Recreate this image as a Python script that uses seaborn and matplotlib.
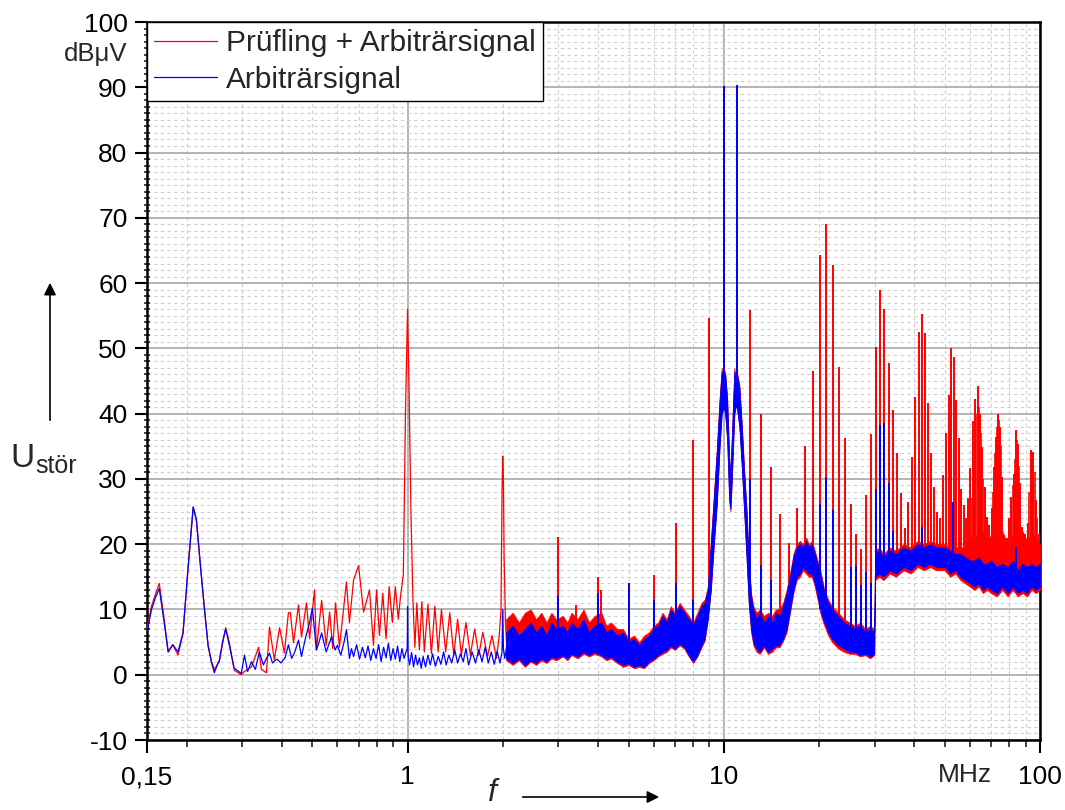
import matplotlib
matplotlib.use("Agg")
import matplotlib.pyplot as plt
import matplotlib.patches as mpatches
import matplotlib.transforms as mtransforms
from matplotlib.ticker import FixedLocator, FixedFormatter, MultipleLocator, NullFormatter
import pandas as pd
import seaborn as sns

# --- low frequency part (0.15 .. 2 MHz) ---
red_low_f = [0.150, 0.155, 0.160, 0.164, 0.170, 0.175, 0.181, 0.188, 0.195, 0.202,
             0.210, 0.215, 0.222, 0.228, 0.234, 0.240, 0.245, 0.250, 0.254, 0.260,
             0.266, 0.273, 0.283, 0.298, 0.305, 0.321, 0.338, 0.345, 0.358, 0.366,
             0.379, 0.394, 0.408, 0.420, 0.426, 0.436, 0.452, 0.462, 0.479, 0.490,
             0.508, 0.515, 0.535, 0.553, 0.567, 0.580, 0.592, 0.609, 0.641, 0.655,
             0.675, 0.700, 0.726, 0.758, 0.780, 0.798, 0.815, 0.835, 0.855, 0.875,
             0.895, 0.915, 0.935, 0.950, 0.970, 0.985, 1.000, 1.010, 1.025, 1.040,
             1.055, 1.070, 1.090, 1.110, 1.130, 1.160, 1.190, 1.220, 1.250, 1.280,
             1.320, 1.360, 1.400, 1.440, 1.480, 1.530, 1.580, 1.630, 1.680, 1.730,
             1.790, 1.850, 1.910, 1.950, 1.975, 1.990, 2.000, 2.010, 2.020, 2.040, 2.060]
red_low_db = [7.0, 10.5, 12.5, 14.0, 8.5, 3.5, 4.6, 3.0, 6.4, 16.0,
              25.7, 23.5, 16.0, 10.0, 4.5, 2.0, 0.8, 1.5, 2.0, 4.8,
              7.2, 5.0, 0.7, 0.0, 0.5, 1.2, 4.2, 0.8, 0.3, 7.3,
              2.3, 7.2, 3.3, 9.5, 9.5, 4.9, 10.7, 5.8, 11.0, 5.5,
              13.0, 3.8, 11.4, 4.5, 9.6, 4.0, 11.0, 4.2, 14.2, 8.0,
              14.5, 16.7, 9.6, 13.0, 4.5, 13.0, 6.0, 12.5, 5.5, 13.5,
              8.0, 13.5, 8.5, 12.0, 15.4, 40.0, 56.0, 45.0, 25.0, 11.4,
              4.2, 11.0, 3.8, 11.2, 3.5, 10.8, 3.2, 10.5, 3.5, 10.0,
              3.5, 9.5, 3.0, 8.5, 3.0, 8.0, 3.0, 7.0, 3.0, 6.5,
              2.8, 6.0, 2.5, 6.0, 10.0, 28.0, 33.5, 30.0, 18.0, 8.0, 4.0]

blue_low_f = [0.150, 0.155, 0.160, 0.164, 0.170, 0.175, 0.181, 0.188, 0.195, 0.202,
              0.210, 0.215, 0.222, 0.228, 0.234, 0.240, 0.245, 0.250, 0.254, 0.260,
              0.266, 0.273, 0.283, 0.298, 0.305, 0.312, 0.321, 0.330, 0.340, 0.350,
              0.358, 0.366, 0.374, 0.386, 0.398, 0.410, 0.420, 0.430, 0.440, 0.452,
              0.462, 0.475, 0.490, 0.500, 0.515, 0.525, 0.535, 0.553, 0.575, 0.590,
              0.600, 0.615, 0.630, 0.641, 0.655, 0.665, 0.675, 0.690, 0.705, 0.720,
              0.735, 0.750, 0.765, 0.780, 0.795, 0.810, 0.825, 0.840, 0.855, 0.870,
              0.885, 0.900, 0.915, 0.930, 0.945, 0.960, 0.975, 0.990, 0.998, 1.000,
              1.004, 1.015, 1.030, 1.045, 1.060, 1.075, 1.090, 1.105, 1.120, 1.140,
              1.160, 1.180, 1.200, 1.225, 1.250, 1.275, 1.300, 1.325, 1.350, 1.380,
              1.410, 1.440, 1.470, 1.500, 1.530, 1.560, 1.600, 1.640, 1.680, 1.720,
              1.760, 1.800, 1.840, 1.880, 1.920, 1.960, 1.990, 2.000, 2.010, 2.030, 2.060]
blue_low_db = [6.5, 10.0, 12.0, 13.2, 8.0, 3.5, 4.6, 3.5, 6.4, 16.0,
               25.7, 23.8, 16.0, 10.0, 4.5, 1.8, 0.3, 1.5, 2.2, 5.0,
               7.0, 4.6, 1.0, 0.2, 3.0, 0.5, 2.0, 0.8, 3.5, 1.5,
               2.5, 3.3, 1.8, 2.4, 1.8, 2.6, 4.6, 2.5, 3.5, 5.3,
               2.8, 5.5, 8.0, 10.2, 3.8, 5.0, 6.4, 3.5, 5.8, 3.8,
               4.5, 3.0, 5.0, 6.9, 2.5, 4.0, 2.8, 4.6, 2.4, 4.2,
               2.6, 4.4, 2.2, 4.0, 2.5, 4.6, 2.0, 4.2, 2.6, 4.8,
               2.2, 4.0, 2.4, 4.4, 2.0, 4.0, 2.5, 3.6, 4.0, 10.4,
               3.0, 1.5, 3.4, 1.2, 3.0, 1.5, 2.6, 1.0, 2.8, 1.2,
               3.0, 1.5, 3.2, 1.3, 2.8, 1.6, 3.5, 1.5, 3.0, 1.8,
               3.8, 1.8, 3.2, 2.0, 4.0, 1.5, 3.5, 1.8, 3.8, 2.0,
               4.2, 1.8, 3.5, 1.6, 3.6, 1.8, 3.5, 10.0, 4.0, 2.5, 4.5]

# --- dense noise floor above 2 MHz: lower / upper envelope ---
band_f = [2.05, 2.15, 2.25, 2.35, 2.45, 2.55, 2.65, 2.75, 2.85, 2.95,
          3.1, 3.2, 3.3, 3.45, 3.6, 3.75, 3.9, 4.1, 4.25, 4.4,
          4.6, 4.8, 5.0, 5.2, 5.4, 5.6, 5.8, 6.0, 6.2, 6.4,
          6.6, 6.8, 7.0, 7.25, 7.5, 7.75, 8.0, 8.25, 8.5, 8.7,
          8.9, 9.1, 9.3, 9.5, 9.7, 9.85, 10.0, 10.1, 10.25, 10.4,
          10.5, 10.6, 10.8, 10.9, 11.0, 11.2, 11.4, 11.6, 11.8, 12.0,
          12.2, 12.4, 12.7, 13.0, 13.4, 13.8, 14.2, 14.6, 15.0, 15.4,
          15.8, 16.2, 16.6, 17.0, 17.4, 17.8, 18.2, 18.6, 19.0, 19.4,
          19.8, 20.3, 20.8, 21.4, 22, 23, 24, 25, 26, 27,
          28, 29, 29.9, 30.1, 31, 32, 33.5, 35, 37, 39,
          41, 43, 45, 47, 50, 52, 54, 56, 58, 60,
          62, 64, 66, 68, 70, 73, 76, 79, 82, 85,
          88, 91, 94, 97, 100]
blue_lo = [2.5, 1.8, 2.5, 1.5, 2.2, 1.8, 2.5, 2.0, 2.8, 2.5,
           3.0, 2.5, 3.2, 2.8, 3.5, 3.0, 3.5, 3.0, 2.5, 2.8,
           2.0, 1.5, 1.8, 1.2, 1.5, 1.2, 2.0, 2.5, 3.0, 3.5,
           3.8, 4.5, 4.0, 4.8, 4.2, 3.0, 2.0, 3.0, 4.5, 5.5,
           8.5, 13, 20, 26, 35, 40, 41, 40, 36, 27,
           25.5, 30, 40, 41, 41, 38, 32, 25, 18, 11,
           7, 5, 4, 3.5, 4.5, 3.5, 4.0, 4.5, 4.5, 5.5,
           7, 10, 13, 15, 15.5, 16.5, 16, 15.5, 15.5, 14,
           12, 9.5, 8, 6.5, 5.5, 4.5, 4.0, 3.5, 3.5, 3.0,
           3.2, 2.8, 3.2, 15, 15.5, 15, 16, 15.5, 16.5, 16,
           17, 16.5, 17, 16.5, 16.5, 15.5, 16, 15, 14.5, 14,
           13.5, 14, 13, 13.5, 13, 12.5, 13.5, 12.5, 13.5, 12.5,
           13, 12.5, 13.5, 13, 13.5]
blue_hi = [6.5, 7.5, 6.0, 7.0, 8.0, 6.5, 7.5, 6.0, 8.0, 7.0,
           7.5, 6.5, 8.0, 7.0, 8.5, 6.5, 7.5, 8.0, 6.5, 7.0,
           6.0, 6.5, 5.0, 5.5, 4.5, 5.5, 6.0, 7.0, 7.5, 9.0,
           8.0, 10.0, 9.0, 10.5, 9.5, 8.5, 7.5, 9.0, 10.5, 11.0,
           13, 20, 27, 34, 42, 46.5, 45, 46, 42, 33,
           30.5, 36, 46.5, 45, 46, 44, 38, 31, 25, 17,
           12, 10, 8.5, 9.5, 8.0, 9.0, 8.0, 9.5, 9.0, 10.5,
           12.5, 15, 18, 19.5, 20, 19.5, 20.5, 19.5, 20, 18.5,
           17, 15, 12.5, 11, 10, 9, 8, 7.5, 7.0, 7.5,
           6.5, 7.0, 6.5, 18.5, 19, 18, 19, 18.5, 19.5, 19,
           20, 19.5, 20, 19.5, 19.5, 19, 18.5, 18.5, 18, 17.5,
           17.5, 18, 17, 17, 17.5, 16.5, 17, 16.5, 17.5, 16,
           17, 16.5, 17, 16.5, 17]
red_lo = [2.2, 1.5, 2.2, 1.2, 2.0, 1.5, 2.2, 1.8, 2.5, 2.2,
          2.8, 2.2, 3.0, 2.5, 3.2, 2.8, 3.2, 2.8, 2.2, 2.5,
          1.8, 1.2, 1.5, 1.0, 1.2, 1.0, 1.8, 2.2, 2.8, 3.2,
          3.5, 4.2, 3.8, 4.5, 4.0, 2.8, 1.8, 2.8, 4.2, 5.2,
          8.5, 13, 20, 26, 35, 40, 41, 40, 36, 26.5,
          25, 29.5, 40, 41, 41, 38, 32, 25, 18, 10.5,
          6.5, 4.5, 3.5, 3.2, 4.2, 3.2, 3.5, 4.2, 4.2, 5.2,
          6.5, 9.5, 12.5, 14.5, 15, 16, 15.5, 15, 15, 13.5,
          11.5, 9, 7.5, 6, 5, 4, 3.5, 3.2, 3.2, 2.8,
          3.0, 2.5, 3.0, 14.5, 15, 14.5, 15.5, 15, 16, 15.5,
          16.5, 16, 16.5, 16, 16, 15, 15.5, 14.5, 14, 13.5,
          13, 13.5, 12.5, 13, 12.5, 12, 13, 12, 13, 12,
          12.5, 12, 13, 12.5, 13]
red_hi = [8.5, 9.5, 8.0, 9.5, 10.0, 8.5, 9.5, 8.0, 9.5, 8.5,
          9.0, 8.0, 9.5, 8.5, 10.0, 8.0, 9.0, 9.5, 7.5, 8.0,
          7.0, 7.0, 5.5, 6.0, 5.0, 6.0, 6.5, 7.5, 8.0, 9.5,
          8.5, 10.5, 9.5, 11.0, 10.0, 9.0, 8.0, 9.5, 11.0, 11.5,
          13.5, 20.5, 27.5, 34.5, 42.5, 47, 45.5, 46.5, 42.5, 33.5,
          31, 36.5, 47, 45.5, 46.5, 44.5, 38.5, 31.5, 25.5, 17.5,
          12.5, 10.5, 9.5, 10.0, 9.0, 9.5, 9.0, 10.0, 10.0, 11,
          13, 15.5, 18.5, 20, 20.5, 20, 21, 20, 20.5, 19,
          17.5, 15.5, 13, 11.5, 10.5, 9.5, 8.5, 8, 7.5, 8,
          7, 7.5, 7, 19, 19.5, 18.5, 19.5, 19, 20, 19.5,
          20.5, 20, 20.5, 20, 20, 19.5, 19.5, 19.5, 19.5, 21,
          21.5, 20.5, 22, 20, 21.5, 20.5, 22, 20, 21.5, 20.5,
          22, 20.5, 21.5, 21, 20]

# --- narrow discrete lines (frequency, peak, floor below it) ---
red_spike_f = [3.0, 3.4, 4.0, 4.1, 5.0, 6.0, 7.05, 8.0, 9.0, 10.0,
               11.0, 12.1, 13.1, 14.1, 15.1, 16.1, 17.1, 18.1, 19.1, 20.2,
               21.1, 22.1, 23.1, 24.2, 25.2, 26.2, 27.2, 28.2, 29.2, 30.2,
               31.2, 32.2, 33.3, 34.3, 35.3, 36.3, 37.3, 38.2, 39.3, 40.2,
               41.3, 42.3, 43.3, 44.2, 45.3, 46.2, 47.2, 48.3, 49.3, 50.4,
               51.4, 52.4, 53.4, 54.3, 55.4, 56.4, 57.4, 58.4, 59.3, 60.2,
               61.4, 62.4, 63.5, 64.6, 65.7, 66.8, 68.0, 69.2, 70.5, 71.7,
               72.8, 73.8, 74.9, 76.0, 77.1, 78.7, 80.0, 81.2, 82.6, 83.8,
               85.0, 86.3, 87.7, 89.8, 91.6, 93.5, 95.3, 97.1, 99.1]
red_spike_db = [21.1, 10.7, 15.0, 13.0, 13.0, 15.3, 23.2, 36.0, 54.7, 90.0,
                90.0, 55.9, 39.9, 31.8, 24.6, 20.2, 25.6, 35.1, 46.6, 64.3,
                69.1, 62.7, 47.2, 36.2, 26.2, 21.5, 19.3, 27.5, 36.9, 50.2,
                58.9, 56.0, 47.8, 40.6, 34.0, 27.8, 22.5, 26.5, 33.3, 42.5,
                52.5, 55.2, 52.4, 41.6, 34.0, 28.8, 25.0, 24.0, 30.6, 37.0,
                42.8, 50.1, 48.7, 42.1, 36.3, 28.5, 26.0, 24.0, 27.0, 31.6,
                38.9, 42.3, 44.2, 40.0, 34.9, 28.8, 24.2, 23.0, 25.5, 31.8,
                36.4, 39.9, 38.0, 30.3, 21.4, 20.9, 24.0, 27.3, 30.8, 37.5,
                35.4, 29.3, 22.7, 21.6, 23.2, 34.5, 34.1, 26.7, 21.6]
red_spike_base = [4, 4, 4, 4, 3, 4, 5, 5, 12, 44,
                  44, 10, 5, 5, 5, 10, 16, 17, 16, 10,
                  8, 6, 5, 4, 4, 4, 4, 4, 4, 16,
                  16, 16, 16, 16, 16, 16, 16, 16, 16, 16,
                  17, 17, 17, 17, 17, 17, 17, 17, 16, 16,
                  16, 16, 16, 16, 16, 16, 15, 15, 15, 15,
                  15, 15, 15, 14, 14, 14, 14, 14, 14, 14,
                  14, 14, 14, 14, 14, 14, 14, 14, 14, 14,
                  14, 14, 14, 14, 14, 14, 14, 14, 14]

# extra lines inside the dense clusters above 60 MHz
red_comb_f = [60.8, 61.9, 62.9, 64.0, 65.1, 66.2, 71.2, 72.3, 73.3, 74.4,
              75.5, 82.0, 83.2, 84.4, 85.6, 92.5, 94.4, 96.2, 98.0]
red_comb_db = [27, 35, 40, 41, 37, 30, 28, 34, 38, 39,
               35, 29, 33, 36, 32, 28, 33, 31, 24]

blue_spike_f = [3.0, 4.0, 5.0, 6.0, 7.05, 8.0, 10.0, 11.0, 12.1, 13.1,
                14.1, 20.2, 21.1, 22.1, 25.2, 26.2, 27.2, 28.2, 29.2, 30.2,
                31.2, 32.2, 33.3, 34.3, 42.3, 52.9, 83.8]
blue_spike_db = [12.0, 12.5, 14.0, 11.5, 14.0, 11.5, 90.2, 90.4, 30.0, 16.8,
                 14.5, 26.2, 30.3, 25.2, 16.5, 16.6, 13.8, 15.8, 14.0, 28.5,
                 38.2, 38.6, 29.3, 22.0, 22.7, 26.5, 19.6]
blue_spike_base = [4, 4, 3, 4, 5, 5, 44, 44, 10, 5,
                   5, 10, 8, 7, 4, 4, 4, 4, 4, 16,
                   16, 16, 16, 16, 17, 16, 14]

x_ticks = [0.15, 1, 10, 100]
x_tick_labels = ["0,15", "1", "10", "100"]
x_minor = [0.2, 0.3, 0.4, 0.5, 0.6, 0.7, 0.8, 0.9,
           2, 3, 4, 5, 6, 7, 8, 9, 20, 30, 40, 50, 60, 70, 80, 90]

label_red = "Prüfling + Arbiträrsignal"
label_blue = "Arbiträrsignal"
RED = "#ff0000"
BLUE = "#0000ff"

sns.set_theme(style="white")
plt.rcParams["font.family"] = ["Liberation Sans", "DejaVu Sans"]
plt.rcParams["axes.unicode_minus"] = False

fig = plt.figure(figsize=(10.65, 8.10), dpi=100)
ax = fig.add_axes([147 / 1065, 70 / 810, 893 / 1065, 718 / 810])

df_red = pd.DataFrame({"f": red_low_f, "dB": red_low_db})
df_blue = pd.DataFrame({"f": blue_low_f, "dB": blue_low_db})

# red first, blue drawn on top
sns.lineplot(data=df_red, x="f", y="dB", color=RED, lw=0.9, estimator=None,
             sort=False, label=label_red, ax=ax, zorder=3)
ax.fill_between(band_f, red_lo, red_hi, color=RED, lw=0.5, zorder=3)
ax.vlines(red_spike_f, red_spike_base, red_spike_db, color=RED, lw=1.4, zorder=3)
ax.vlines(red_comb_f, 15, red_comb_db, color=RED, lw=1.2, zorder=3)

sns.lineplot(data=df_blue, x="f", y="dB", color=BLUE, lw=0.9, estimator=None,
             sort=False, label=label_blue, ax=ax, zorder=4)
ax.fill_between(band_f, blue_lo, blue_hi, color=BLUE, lw=0.6, zorder=4)
ax.vlines(blue_spike_f, blue_spike_base, blue_spike_db, color=BLUE, lw=1.4, zorder=4)

ax.set_xscale("log")
ax.set_xlim(0.15, 100)
ax.set_ylim(-10, 100)
ax.xaxis.set_major_locator(FixedLocator(x_ticks))
ax.xaxis.set_major_formatter(FixedFormatter(x_tick_labels))
ax.xaxis.set_minor_locator(FixedLocator(x_minor))
ax.xaxis.set_minor_formatter(NullFormatter())
ax.yaxis.set_major_locator(MultipleLocator(10))
ax.yaxis.set_minor_locator(MultipleLocator(1))

ax.grid(which="major", color="#a0a0a0", lw=1.1, zorder=0)
ax.grid(which="minor", color="#cfcfcf", lw=0.8, ls=(0, (3, 3)), zorder=0)
ax.set_axisbelow(True)

for sp in ax.spines.values():
    sp.set_visible(True)
    sp.set_color("black")
    sp.set_linewidth(1.8)

ax.tick_params(axis="both", which="major", labelsize=19, colors="black")
ax.tick_params(axis="y", which="major", direction="out", length=9, width=1.5, pad=5, left=True)
ax.tick_params(axis="y", which="minor", direction="inout", length=5, width=1.2, left=True)
ax.tick_params(axis="x", which="major", direction="out", length=9, width=1.5, pad=9, bottom=True)
ax.tick_params(axis="x", which="minor", direction="out", length=5, width=1.2, bottom=True)

ax.set_xlabel("")
ax.set_ylabel("")

h, l = ax.get_legend_handles_labels()
leg = ax.legend(h, l, loc="upper left", bbox_to_anchor=(0, 1), borderaxespad=0,
                fontsize=21.5, frameon=True, fancybox=False, framealpha=1,
                edgecolor="black", handlelength=2.1, handletextpad=0.3,
                borderpad=0.25, labelspacing=0.28)
leg.get_frame().set_linewidth(1.0)
leg.set_zorder(10)

# unit labels
trans = mtransforms.blended_transform_factory(ax.transAxes, ax.transData)
ax.text(-0.022, 95.1, "dBμV", transform=trans, ha="right", va="center", fontsize=18.5)
ax.text(0.916, -0.049, "MHz", transform=ax.transAxes, ha="center", va="center", fontsize=19)

# axis quantity labels with arrows
fig.text(10 / 1065, 1 - 467 / 810, "U", fontsize=24, va="baseline", ha="left")
fig.text(35 / 1065, 1 - 473 / 810, "stör", fontsize=18, va="baseline", ha="left")
fig.patches.append(mpatches.FancyArrowPatch(
    (50 / 1065, 1 - 423 / 810), (50 / 1065, 1 - 280 / 810), transform=fig.transFigure,
    arrowstyle="-|>", mutation_scale=18, lw=1.2, color="black"))

fig.text(492 / 1065, 1 - 801 / 810, "f", fontsize=23, style="italic", va="baseline", ha="center")
fig.patches.append(mpatches.FancyArrowPatch(
    (520 / 1065, 1 - 797 / 810), (662 / 1065, 1 - 797 / 810), transform=fig.transFigure,
    arrowstyle="-|>", mutation_scale=18, lw=1.2, color="black"))

fig.savefig("out.png", dpi=100)
